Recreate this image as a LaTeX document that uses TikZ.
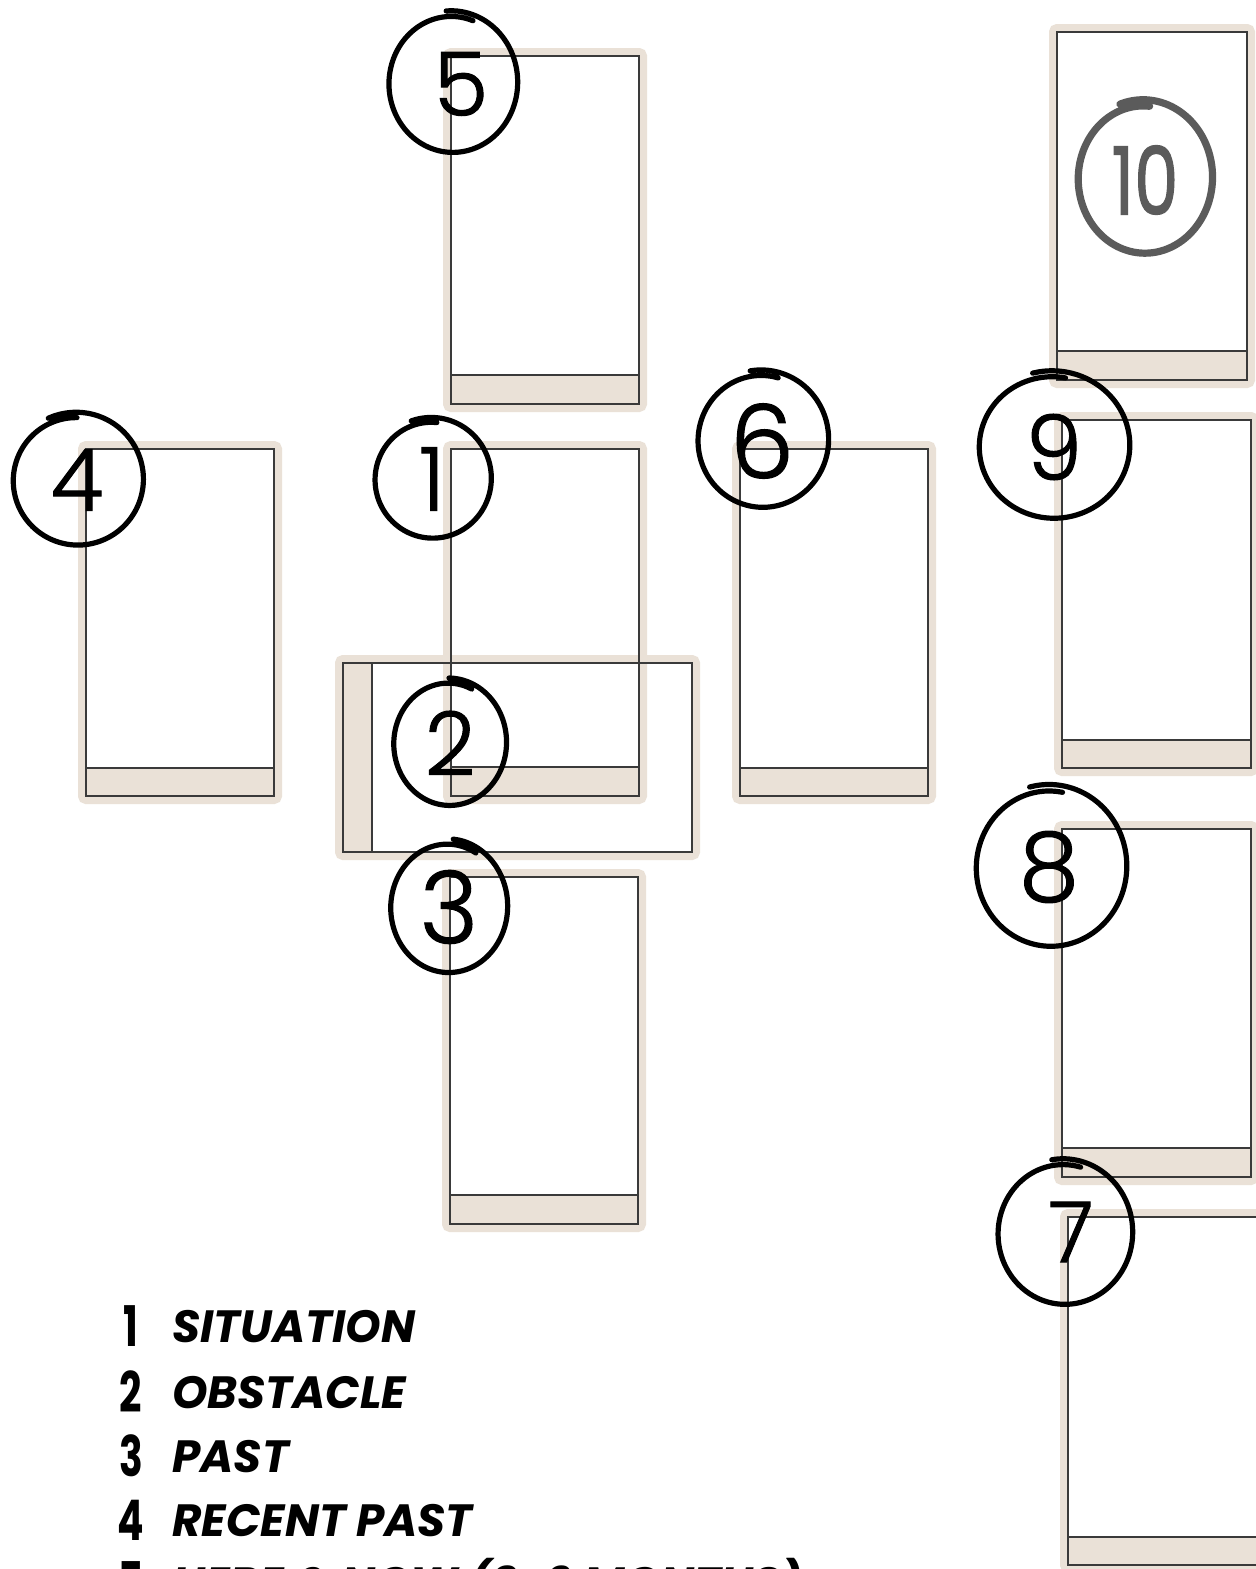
\documentclass[tikz,border=0pt]{standalone}
\usepackage{graphicx}
\usepackage{fontspec}
\setmainfont{Poppins}
\newfontfamily\handfont{Poppins Light}[FakeBold=1.2]
\newfontfamily\tenfont{Poppins}[FakeBold=1.5]
\definecolor{beige}{HTML}{EAE1D7}
\definecolor{cardline}{HTML}{3A3A3A}
\definecolor{tengray}{HTML}{5B5B5B}
\tikzset{
  ring/.style={draw=beige, line width=4pt, rounded corners=2pt},
  cardedge/.style={draw=cardline, line width=0.6pt},
  handline/.style={draw=black, line width=2.6pt, line cap=round, line join=round},
  tenline/.style={draw=tengray, line width=3.6pt, line cap=round, line join=round},
  handdigit/.style={inner sep=0pt, font=\handfont\fontsize{#1}{#1}\selectfont},
  listnum/.style={anchor=base, inner sep=0pt, font=\bfseries\fontsize{28}{28}\selectfont},
  listtext/.style={anchor=base west, inner sep=0pt, font=\bfseries\itshape\fontsize{22.6}{22.6}\selectfont},
}
\newcommand\hcircle[6][handline]{%
  \draw[#1] plot[smooth, samples=80, domain=0:385, variable=\t]
    ({#2+#4*(0.96+0.00023*\t)*cos(\t+#6)}, {#3-#5*(0.96+0.00023*\t)*sin(\t+#6)});}
\begin{document}
\begin{tikzpicture}[x=0.5pt,y=-0.5pt]
\useasboundingbox (0,0) rectangle (1256,1569);
\clip (0,0) rectangle (1256,1569);
\fill[white] (0,0) rectangle (1256,1569);

% ---- card frames (rings) ----
\foreach \a/\b/\c/\d/\e in {451/56/639/404/375, 1057/32/1247/380/351, 86/449/274/796/768,
    451/449/639/796/767, 740/449/928/796/768, 1062/420/1251/768/740,
    450/877/638/1224/1195, 1062/829/1251/1177/1148, 1068/1217/1258/1565/1537}
  {\draw[ring] ({\a-4},{\b-4}) rectangle ({\c+4},{\d+4});}
\draw[ring] (339,659) rectangle (696,856);

% ---- bands ----
\foreach \a/\b/\c/\d/\e in {451/56/639/404/375, 1057/32/1247/380/351, 86/449/274/796/768,
    451/449/639/796/767, 740/449/928/796/768, 1062/420/1251/768/740,
    450/877/638/1224/1195, 1062/829/1251/1177/1148, 1068/1217/1258/1565/1537}
  {\fill[beige] (\a,\e) rectangle (\c,\d);}
\fill[beige] (343,663) rectangle (372,852);

% ---- card edges ----
\foreach \a/\b/\c/\d/\e in {451/56/639/404/375, 1057/32/1247/380/351, 86/449/274/796/768,
    451/449/639/796/767, 740/449/928/796/768, 1062/420/1251/768/740,
    450/877/638/1224/1195, 1062/829/1251/1177/1148, 1068/1217/1258/1565/1537}
  {\draw[cardedge] (\a,\b) rectangle (\c,\d);
   \draw[cardedge] (\a,\e) -- (\c,\e);}
\draw[cardedge] (343,663) rectangle (692,852);
\draw[cardedge] (372,663) -- (372,852);

% ---- hand-drawn circles ----
\hcircle{452}{83}{64}{69}{70}
\hcircle{77}{480}{65}{65}{90}
\hcircle{432}{479}{58}{59}{85}
\hcircle{762}{440}{65}{67}{75}
\hcircle{1053}{446}{75}{72}{80}
\hcircle{449}{743}{56}{62}{65}
\hcircle{448}{907}{58}{65}{60}
\hcircle{1050}{867}{75}{79}{80}
\hcircle{1064}{1233}{67}{71}{75}
\hcircle[tenline]{1144}{178}{67}{75}{85}

% ---- digits ----
\node[handdigit=44] (d5) at (461,84) {5};
\node[handdigit=43] (d4) at (77,480) {4};
\node[handdigit=44] (d1) at (432,479) {1};
\node[handdigit=51] (d6) at (762,441) {6};
\node[handdigit=45] (d9) at (1054,447) {9};
\node[handdigit=44] (d2) at (450,743) {2};
\node[handdigit=50] (d3) at (449,907) {3};
\node[handdigit=48] (d8) at (1049,867) {8};
\node[handdigit=42] (d7) at (1071,1232) {7};
\node[inner sep=0pt, text=tengray, font=\tenfont\fontsize{47}{47}\selectfont] (d10) at (1145,180) {\scalebox{0.75}[1]{10}};

% ---- legend ----
\node[listnum] (n1) at (131,1346) {\scalebox{0.7}[1]{1}};
\node[listnum] (n2) at (131,1412) {\scalebox{0.7}[1]{2}};
\node[listnum] (n3) at (131,1476) {\scalebox{0.7}[1]{3}};
\node[listnum] (n4) at (131,1540) {\scalebox{0.7}[1]{4}};
\node[listnum] (n5) at (131,1602) {\scalebox{0.7}[1]{5}};
\node[listtext] (t1) at (172,1342) {SITUATION};
\node[listtext] (t2) at (172,1408) {OBSTACLE};
\node[listtext] (t3) at (172,1472) {PAST};
\node[listtext] (t4) at (172,1536) {RECENT PAST};
\node[listtext] (t5) at (172,1599) {HERE \& NOW (3-6 MONTHS)};
\end{tikzpicture}
\end{document}
